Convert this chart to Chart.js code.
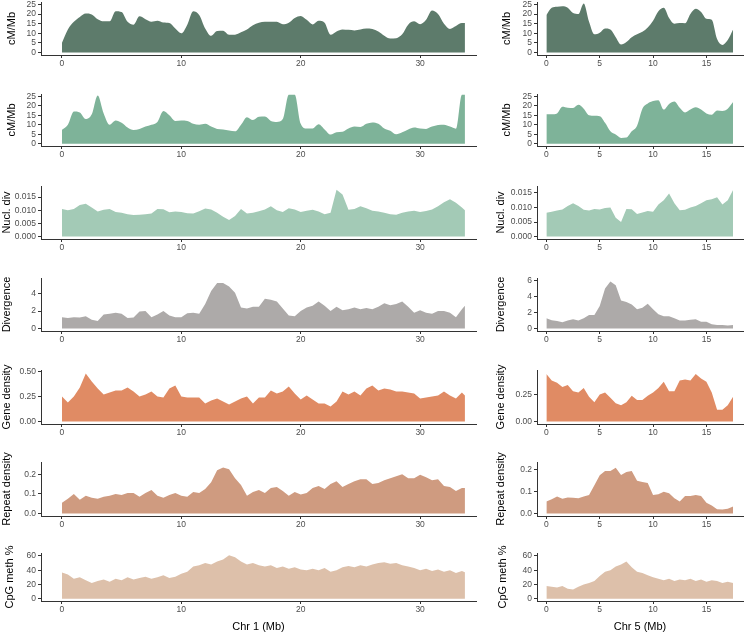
<!DOCTYPE html>
<html><head><meta charset="utf-8">
<script src="https://cdn.jsdelivr.net/npm/chart.js@4.4.1/dist/chart.umd.min.js"></script>
<style>html,body{margin:0;padding:0;background:#fff;}#wrap{position:relative;width:744px;height:637px;overflow:hidden;background:#fff;}canvas{position:absolute;}</style>
</head><body><div id="wrap"></div>
<script>
// ---- positions (Mb) ----
const chr1Pos = [0,0.5,1,1.5,2,2.5,3,3.5,4,4.5,5,5.5,6,6.5,7,7.5,8,8.5,9,9.5,10,10.5,11,11.5,12,12.5,13,13.5,14,14.5,15,15.5,16,16.5,17,17.5,18,18.5,19,19.5,20,20.5,21,21.5,22,22.5,23,23.5,24,24.5,25,25.5,26,26.5,27,27.5,28,28.5,29,29.5,30,30.5,31,31.5,32,32.5,33,33.5,33.75];
const chr5Pos = [0,0.5,1,1.5,2,2.5,3,3.5,4,4.5,5,5.5,6,6.5,7,7.5,8,8.5,9,9.5,10,10.5,11,11.5,12,12.5,13,13.5,14,14.5,15,15.5,16,16.5,17,17.5];

// ---- Chr 1 series ----
const chr1RecA = [5,12,16,18.5,20.3,19.8,17.3,16.2,16.2,21.5,21,16,14.5,18.8,17.3,16,16.5,15.6,15.3,12.5,10,14.5,21.5,19.5,12.5,8.7,11.2,11.3,9.2,9.3,10.5,12,14.2,15.5,16,16,16,14.7,15.5,18,19,17,14.6,16.5,15.5,9.3,11,12,11.8,11.5,12,12.5,12.3,11,8.8,7.3,7.5,9.5,14.5,16.2,14.7,17,21.8,20,15,12.3,13.8,15.3,15.3];
const chr1RecB = [7.3,10,17,16.5,13,15.5,25.5,16,10,12.2,11,8.5,7.2,7.8,9,10,11.5,17.3,15,12,12.2,12,10.5,10,10.5,9,7.8,7.5,7,6.5,10,14,12.5,14.2,14.3,12,11.5,13,25.8,25.8,10.5,8,8,10.2,7.5,4.8,6,6.3,8,9,8.8,10.5,11.2,10.5,8,6.8,4.9,6,7.5,8.5,8,7.8,9,9.8,10,9,7.9,25.8,25.8];
const chr1Nucl = [0.0105,0.0100,0.0105,0.0120,0.0125,0.0110,0.0095,0.0102,0.0105,0.0093,0.0090,0.0085,0.0082,0.0083,0.0085,0.0088,0.0105,0.0104,0.0092,0.0095,0.0093,0.0089,0.0088,0.0096,0.0107,0.0103,0.0090,0.0075,0.0063,0.0078,0.0105,0.0088,0.0090,0.0096,0.0103,0.0115,0.0100,0.0093,0.0108,0.0103,0.0093,0.0098,0.0102,0.0095,0.0085,0.0090,0.0178,0.0160,0.0102,0.0105,0.0115,0.0108,0.0098,0.0095,0.0090,0.0085,0.0083,0.0090,0.0095,0.0098,0.0093,0.0097,0.0103,0.0115,0.0130,0.0142,0.0128,0.0110,0.0100];
const chr1Div = [1.3,1.2,1.3,1.25,1.4,1.0,0.85,1.6,1.7,1.8,1.7,1.2,1.25,1.95,2.0,1.3,1.6,2.0,1.5,1.3,1.3,1.75,1.8,1.7,2.8,4.3,5.2,5.2,4.8,4.1,2.4,2.3,2.5,2.5,3.4,3.3,3.1,2.3,1.5,1.4,2.0,2.4,2.6,3.1,2.6,2.0,2.5,2.1,2.2,2.4,2.2,2.35,2.2,2.5,2.9,2.65,2.8,3.1,2.5,1.8,2.1,1.8,1.7,2.0,2.0,1.8,1.3,2.2,2.6];
const chr1Gene = [0.25,0.19,0.25,0.34,0.48,0.40,0.33,0.27,0.29,0.31,0.31,0.34,0.30,0.25,0.27,0.30,0.25,0.24,0.33,0.36,0.25,0.24,0.24,0.24,0.18,0.21,0.23,0.20,0.17,0.20,0.23,0.25,0.18,0.24,0.24,0.31,0.28,0.30,0.35,0.28,0.22,0.26,0.22,0.18,0.18,0.15,0.20,0.30,0.27,0.30,0.26,0.33,0.36,0.31,0.33,0.32,0.30,0.30,0.29,0.28,0.23,0.24,0.25,0.26,0.30,0.26,0.23,0.29,0.26];
const chr1Rep = [0.055,0.075,0.10,0.07,0.09,0.08,0.075,0.085,0.09,0.10,0.095,0.105,0.105,0.085,0.105,0.12,0.09,0.08,0.095,0.105,0.09,0.085,0.11,0.105,0.125,0.16,0.22,0.235,0.225,0.18,0.145,0.09,0.11,0.12,0.105,0.13,0.135,0.115,0.09,0.11,0.097,0.105,0.13,0.14,0.125,0.15,0.165,0.135,0.15,0.165,0.175,0.175,0.15,0.155,0.17,0.18,0.19,0.20,0.18,0.18,0.197,0.185,0.17,0.175,0.14,0.135,0.115,0.13,0.13];
const chr1CpG = [37,34,28,30,26,22,25,27,24,28,26,30,27,29,31,28,30,33,29,31,35,38,45,47,50,48,52,55,61,58,52,48,50,47,45,47,43,45,42,44,41,40,42,40,43,38,40,44,46,44,47,45,48,50,51,49,50,47,45,43,40,42,39,41,38,40,36,39,37];

// ---- Chr 5 series ----
const chr5RecA = [19.5,23.3,23.8,24,23.3,20.5,20,25.5,16,9.5,10.3,12.5,12,8,4.2,5.5,8,9.5,10.8,13,16.5,21.5,23.3,18,15,15.3,15.2,20,22.7,21,17.5,17,7,4,6.5,12];
const chr5RecB = [15.5,15.5,16,19.5,19,18.8,20.5,18.5,15,14.7,14.5,11,6.5,4.8,3.0,3.2,6.5,9.5,18.5,21.2,22.5,23,18,21,22.3,19,16.5,18,19.2,18,16,15.3,17.5,17.3,18.5,22];
const chr5Nucl = [0.0082,0.0085,0.0090,0.0093,0.0105,0.0115,0.0105,0.0092,0.0090,0.0095,0.0093,0.0098,0.0100,0.0065,0.0050,0.0095,0.0094,0.0078,0.0083,0.0088,0.0085,0.0110,0.0125,0.0148,0.0115,0.0091,0.0092,0.0100,0.0105,0.0115,0.0125,0.0128,0.0135,0.0110,0.0125,0.0160];
const chr5Div = [1.3,1.05,0.95,0.8,1.0,1.15,1.0,1.3,1.7,1.7,2.8,5.0,5.85,5.4,3.5,3.3,3.0,2.4,2.6,3.1,2.4,1.8,1.55,1.55,1.3,1.0,1.0,1.1,1.15,0.85,0.85,0.55,0.45,0.45,0.4,0.45];
const chr5Gene = [0.44,0.38,0.36,0.32,0.34,0.28,0.27,0.31,0.23,0.18,0.25,0.27,0.22,0.17,0.15,0.18,0.24,0.20,0.20,0.24,0.27,0.31,0.37,0.28,0.28,0.38,0.39,0.38,0.44,0.40,0.37,0.27,0.11,0.11,0.15,0.23];
const chr5Rep = [0.055,0.065,0.078,0.068,0.073,0.072,0.07,0.078,0.085,0.13,0.175,0.195,0.195,0.21,0.177,0.19,0.195,0.15,0.145,0.14,0.085,0.088,0.10,0.093,0.07,0.055,0.08,0.08,0.085,0.08,0.05,0.037,0.02,0.018,0.022,0.032];
const chr5CpG = [18,17,16,18,14,13,17,20,22,25,32,38,40,45,48,52,44,38,36,33,30,28,26,28,25,27,26,28,25,27,24,26,25,22,24,22];

// ---- tick labels ----
const chr1XTicks = [0,10,20,30];
const chr5XTicks = [0,5,10,15];
const recTicks = [0,5,10,15,20,25];
const nuclTicks = [0,0.005,0.010,0.015];
const div1Ticks = [0,2,4];
const div5Ticks = [0,2,4,6];
const gene1Ticks = [0,0.25,0.5];
const gene5Ticks = [0,0.25];
const repTicks = [0,0.1,0.2];
const cpgTicks = [0,20,40,60];
const rowTitles = ['cM/Mb','cM/Mb','Nucl. div','Divergence','Gene density','Repeat density','CpG meth %'];
const xTitles = ['Chr 1 (Mb)','Chr 5 (Mb)'];

// ---- styling / layout ----
const COLORS = ['#5d7b6b','#7eb399','#a3cab6','#adaaa9','#e08b64','#cf9b80','#ddc0aa'];
const SMOOTH = [true,true,false,false,false,false,false];
const DEC = [0,0,3,0,2,1,0];
const ROWBOX = [[2,55],[94,146],[186,239],[278,331],[370,424],[462,516],[553,601]];
const PADTOP = 14;
const COLS = [
  {left:0,width:480,yW:41,padR:4,xMin:-1.75,xMax:34.68,pos:chr1Pos,xt:chr1XTicks,
   tpad:[5.4,5.4,0,0,0,0,3.5],
   series:[chr1RecA,chr1RecB,chr1Nucl,chr1Div,chr1Gene,chr1Rep,chr1CpG],
   yr:[[-1.25,26.25],[-1.25,26.25],[-0.00092,0.0192],[-0.28,5.78],[-0.0245,0.5145],[-0.0125,0.2625],[-3,64]],
   yt:[recTicks,recTicks,nuclTicks,div1Ticks,gene1Ticks,repTicks,cpgTicks]},
  {left:490,width:254,yW:47,padR:1,xMin:-0.88,xMax:18.43,pos:chr5Pos,xt:chr5XTicks,
   tpad:[10,10,4,4,4,4,6],
   series:[chr5RecA,chr5RecB,chr5Nucl,chr5Div,chr5Gene,chr5Rep,chr5CpG],
   yr:[[-1.25,26.25],[-1.25,26.25],[-0.00083,0.0174],[-0.3,6.3],[-0.0228,0.478],[-0.0112,0.236],[-3,64]],
   yt:[recTicks,recTicks,nuclTicks,div5Ticks,gene5Ticks,repTicks,cpgTicks]}
];

Chart.defaults.font.family = "'Liberation Sans', Arial, Helvetica, sans-serif";
const wrap = document.getElementById('wrap');
const AX = '#333333', TICKC = '#4d4d4d';

COLS.forEach((col, ci) => {
  ROWBOX.forEach((box, ri) => {
    const last = ri === ROWBOX.length - 1;
    const XH = last ? (637 - box[1]) : 18;
    const canvas = document.createElement('canvas');
    canvas.width = col.width;
    canvas.height = PADTOP + (box[1] - box[0]) + XH;
    canvas.style.left = col.left + 'px';
    canvas.style.top = (box[0] - PADTOP) + 'px';
    wrap.appendChild(canvas);
    const ys = col.series[ri];
    const yTicks = col.yt[ri];
    const dec = DEC[ri];
    new Chart(canvas, {
      type: 'line',
      data: { datasets: [{
        data: col.pos.map((x, i) => ({x: x, y: ys[i]})),
        fill: 'origin', backgroundColor: COLORS[ri], borderColor: COLORS[ri], borderWidth: 0,
        pointRadius: 0, tension: SMOOTH[ri] ? 0.4 : 0,
        cubicInterpolationMode: SMOOTH[ri] ? 'monotone' : 'default'
      }]},
      options: {
        responsive: false, animation: false, events: [], devicePixelRatio: 1,
        layout: { padding: { top: PADTOP, right: col.padR, left: 0, bottom: 0 } },
        plugins: { legend: { display: false }, tooltip: { enabled: false } },
        scales: {
          x: {
            type: 'linear', bounds: 'data', min: col.xMin, max: col.xMax,
            afterFit: s => { s.height = XH; },
            afterBuildTicks: s => { s.ticks = col.xt.map(v => ({value: v})); },
            ticks: { autoSkip: false, maxRotation: 0, padding: 1, color: TICKC, font: { size: 8.5 }, callback: v => String(v) },
            grid: { display: true, drawOnChartArea: false, drawTicks: true, tickLength: 3, color: AX },
            border: { display: true, color: AX, width: 1 },
            title: { display: last, text: xTitles[ci], color: '#000', font: { size: 11 }, padding: { top: 0, bottom: 3.4 } }
          },
          y: {
            type: 'linear', bounds: 'data', min: col.yr[ri][0], max: col.yr[ri][1],
            afterFit: s => { s.width = col.yW; },
            afterBuildTicks: s => { s.ticks = yTicks.map(v => ({value: v})); },
            ticks: { autoSkip: false, padding: 2, color: TICKC, font: { size: 8.5 }, callback: v => Number(v).toFixed(dec) },
            grid: { display: true, drawOnChartArea: false, drawTicks: true, tickLength: 3, color: AX },
            border: { display: true, color: AX, width: 1 },
            title: { display: true, text: rowTitles[ri], color: '#000', font: { size: 11 }, padding: { top: col.tpad[ri], bottom: 0 } }
          }
        }
      }
    });
  });
});
</script>
</body></html>
